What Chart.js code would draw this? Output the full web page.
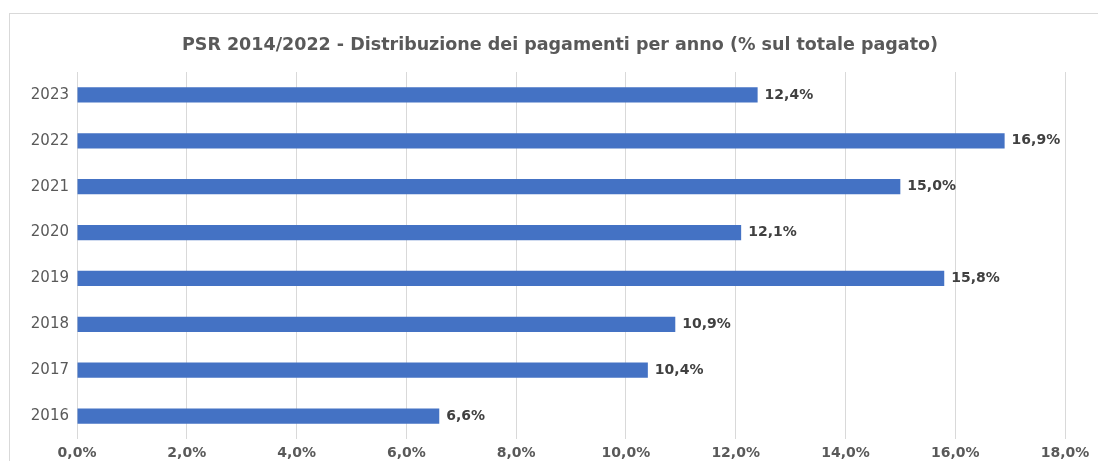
<!DOCTYPE html>
<html>
<head>
<meta charset="utf-8">
<script src="https://cdn.jsdelivr.net/npm/chart.js@4.4.0/dist/chart.umd.min.js"></script>
<style>
  html, body { margin: 0; padding: 0; background: #fff; }
  #wrap { position: relative; width: 1098px; height: 461px; }
</style>
</head>
<body>
<div id="wrap"><canvas id="chart" width="1098" height="461"></canvas></div>
<script>
// Chart data
const chartTitle = 'PSR 2014/2022 - Distribuzione dei pagamenti per anno (% sul totale pagato)';
const years = ['2023', '2022', '2021', '2020', '2019', '2018', '2017', '2016'];
const shares = [12.4, 16.9, 15.0, 12.1, 15.8, 10.9, 10.4, 6.6];
const xTicks = [0, 2, 4, 6, 8, 10, 12, 14, 16, 18];

const fontFamily = '"DejaVu Sans", "Open Sans", sans-serif';

function formatPct(v) {
  return v.toFixed(1).replace('.', ',') + '%';
}

// frame + title, drawn before the chart
const framePlugin = {
  id: 'frame',
  beforeDraw(chart) {
    const ctx = chart.ctx;
    ctx.save();
    ctx.strokeStyle = '#d9d9d9';
    ctx.lineWidth = 1;
    ctx.strokeRect(9.5, 13.5, 1100, 460);
    ctx.fillStyle = '#595959';
    ctx.font = 'bold 17.5px ' + fontFamily;
    ctx.textAlign = 'center';
    ctx.textBaseline = 'middle';
    ctx.fillText(chartTitle, 560, 45);
    ctx.restore();
  }
};

// value labels at the end of each bar
const valueLabels = {
  id: 'valueLabels',
  afterDatasetsDraw(chart) {
    const ctx = chart.ctx;
    const meta = chart.getDatasetMeta(0);
    ctx.save();
    ctx.fillStyle = '#404040';
    ctx.font = 'bold 14px ' + fontFamily;
    ctx.textAlign = 'left';
    ctx.textBaseline = 'middle';
    meta.data.forEach((bar, i) => {
      ctx.fillText(formatPct(shares[i]), bar.x + 7, bar.y);
    });
    ctx.restore();
  }
};

new Chart(document.getElementById('chart'), {
  type: 'bar',
  data: {
    labels: years,
    datasets: [{
      data: shares,
      backgroundColor: '#4472C4',
      borderWidth: 0,
      categoryPercentage: 1,
      barPercentage: 0.33
    }]
  },
  options: {
    indexAxis: 'y',
    responsive: false,
    animation: false,
    layout: { padding: { top: 72, right: 33, left: 0, bottom: 0 } },
    plugins: {
      legend: { display: false },
      title: { display: false },
      tooltip: { enabled: false }
    },
    scales: {
      x: {
        min: 0,
        max: 18,
        afterBuildTicks(scale) {
          scale.ticks = xTicks.map(v => ({ value: v }));
        },
        afterFit(scale) { scale.height = 22; },
        grid: { color: '#d9d9d9', lineWidth: 1, drawTicks: false },
        border: { display: false },
        ticks: {
          padding: 6,
          color: '#595959',
          font: { family: fontFamily, size: 14, weight: 'bold' },
          callback: v => formatPct(v)
        }
      },
      y: {
        afterFit(scale) { scale.width = 77; },
        grid: { display: false, drawTicks: false },
        border: { display: false },
        ticks: {
          padding: 8,
          color: '#595959',
          font: { family: fontFamily, size: 15 }
        }
      }
    }
  },
  plugins: [framePlugin, valueLabels]
});
</script>
</body>
</html>
